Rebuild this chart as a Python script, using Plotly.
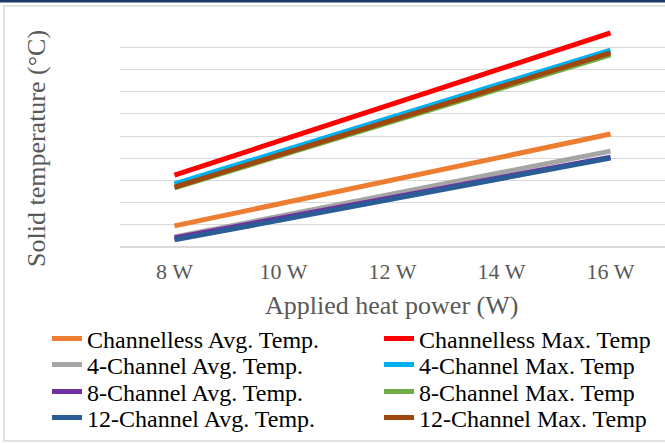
import plotly.graph_objects as go

categories = ["8 W", "10 W", "12 W", "14 W", "16 W"]

series_names = [
    "Channelless Avg. Temp.", "Channelless Max. Temp",
    "4-Channel Avg. Temp.", "4-Channel Max. Temp",
    "8-Channel Avg. Temp.", "8-Channel Max. Temp",
    "12-Channel Avg. Temp.", "12-Channel Max. Temp",
]

channelless_avg = [0.95, 1.98, 3.02, 4.05, 5.09]
channelless_max = [3.24, 4.84, 6.44, 8.04, 9.64]
ch4_avg = [0.45, 1.42, 2.39, 3.35, 4.32]
ch4_max = [2.84, 4.35, 5.86, 7.36, 8.87]
ch8_avg = [0.41, 1.32, 2.23, 3.14, 4.05]
ch8_max = [2.66, 4.16, 5.66, 7.15, 8.65]
ch12_avg = [0.32, 1.24, 2.16, 3.09, 4.01]
ch12_max = [2.70, 4.21, 5.72, 7.23, 8.74]

series_values = [channelless_avg, channelless_max, ch4_avg, ch4_max,
                 ch8_avg, ch8_max, ch12_avg, ch12_max]
colors = ["#ED7D31", "#FF0000", "#A5A5A5", "#00B0F0",
          "#7030A0", "#70AD47", "#2A5C96", "#9E480E"]

FONT = "Liberation Serif"

W, H = 665, 443
ML, MR, MT, MB = 120, 0, 25, 196

fig = go.Figure()
legend_layouts = {}
col_x = [47, 379]             # legend box left (px) for the two columns
row_y = [339, 365, 392, 418]  # legend row centre (px)
for i, (name, vals, col) in enumerate(zip(series_names, series_values, colors)):
    key = "legend" if i == 0 else f"legend{i + 1}"
    fig.add_trace(go.Scatter(x=categories, y=vals, name=name, mode="lines",
                             line=dict(color=col, width=5), legend=key))
    legend_layouts[key] = dict(
        orientation="v", xref="container", yref="container",
        x=col_x[i % 2] / W, y=1 - row_y[i // 2] / H,
        xanchor="left", yanchor="middle",
        font=dict(size=24, family=FONT, color="#000000"),
        bgcolor="rgba(0,0,0,0)", itemwidth=30)

plot_h = H - MT - MB
plot_w = W - ML - MR

fig.update_layout(
    width=W, height=H,
    margin=dict(l=ML, r=MR, t=MT, b=MB, pad=0, autoexpand=False),
    paper_bgcolor="white", plot_bgcolor="white",
    font=dict(family=FONT, color="#000000"),
    showlegend=True,
    xaxis=dict(type="category", showgrid=False, showline=False, ticks="",
               tickfont=dict(size=22, color="#595959", family=FONT),
               ticklabelstandoff=9,
               range=[-0.5, 4.5]),
    yaxis=dict(range=[0, 10], dtick=1, showticklabels=False, ticks="",
               gridcolor="#D9D9D9", gridwidth=1, zeroline=True,
               zerolinecolor="#D9D9D9", zerolinewidth=1.5),
    annotations=[
        dict(text="Applied heat power (W)", xref="paper", yref="paper",
             x=(391 - ML) / plot_w, y=-(305 - (H - MB)) / plot_h,
             showarrow=False, xanchor="center", yanchor="middle",
             font=dict(size=26, color="#595959", family=FONT)),
        dict(text="Solid temperature (°C)", xref="paper", yref="paper",
             x=(36 - ML) / plot_w, y=((H - MB) - 149) / plot_h, textangle=-90,
             showarrow=False, xanchor="center", yanchor="middle",
             font=dict(size=26, color="#595959", family=FONT)),
    ],
    shapes=[
        dict(type="rect", xref="paper", yref="paper",
             x0=(4 - ML) / plot_w, x1=1.02,
             y0=-(441 - (H - MB)) / plot_h, y1=((H - MB) - 6) / plot_h,
             line=dict(color="#D9D9D9", width=1.5), layer="below"),
        dict(type="line", xref="paper", yref="paper",
             x0=-0.25, x1=1.02,
             y0=((H - MB) - 1) / plot_h, y1=((H - MB) - 1) / plot_h,
             line=dict(color="#1F3864", width=3)),
    ],
    **legend_layouts,
)

fig.write_html("out.html",
               config={"displayModeBar": False},
               post_script="document.body.style.margin='0';"
                           "document.body.style.padding='0';")
